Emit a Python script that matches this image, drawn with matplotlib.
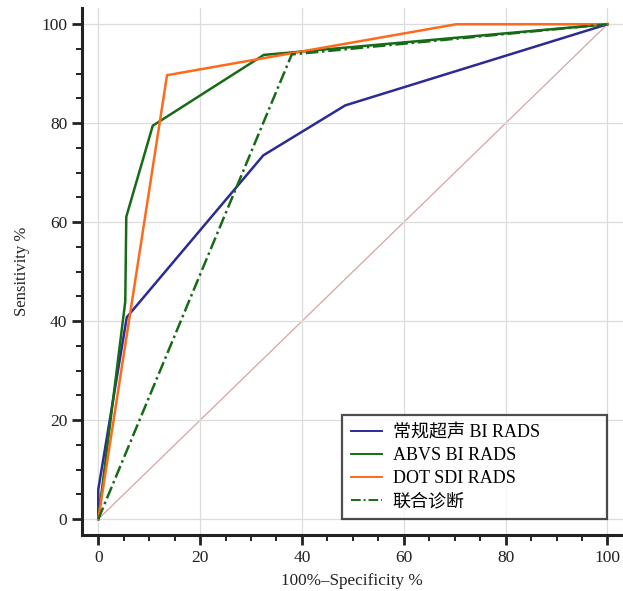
import matplotlib.pyplot as plt
from matplotlib.ticker import MultipleLocator

plt.rcParams['font.family'] = ['Liberation Serif', 'Noto Sans CJK SC']

# ROC curve points: (100% - specificity, sensitivity)
us_x = [0, 0, 5.6, 32.4, 48.5, 100]
us_y = [0, 6, 40.8, 73.5, 83.6, 100]

abvs_x = [0, 5.3, 5.5, 10.7, 32.5, 100]
abvs_y = [0, 44, 61.1, 79.5, 93.8, 100]

dot_x = [0, 13.5, 70.3, 100]
dot_y = [0, 89.7, 100, 100]

comb_x = [0, 38.0, 100]
comb_y = [0, 93.9, 100]

labels = ["常规超声 BI RADS", "ABVS BI RADS", "DOT SDI RADS", "联合诊断"]

fig = plt.figure(figsize=(6.23, 5.91), dpi=100)
ax = fig.add_axes([0.1316, 0.0948, 0.868, 0.891])

ax.plot([0, 100], [0, 100], color="#d9a3a3", lw=0.9, zorder=1)
ax.plot(us_x, us_y, color="#2b2b96", lw=1.8, label=labels[0], zorder=3)
ax.plot(abvs_x, abvs_y, color="#176b17", lw=1.8, label=labels[1], zorder=3)
ax.plot(dot_x, dot_y, color="#ff6a1a", lw=1.8, label=labels[2], zorder=3)
ax.plot(comb_x, comb_y, color="#176b17", lw=1.8, ls=(0, (5, 1.5, 1, 1.5)),
        label=labels[3], zorder=3)

ax.set_xlim(-3.2, 103)
ax.set_ylim(-3.2, 103.2)
ax.xaxis.set_major_locator(MultipleLocator(20))
ax.yaxis.set_major_locator(MultipleLocator(20))
ax.xaxis.set_minor_locator(MultipleLocator(5))
ax.yaxis.set_minor_locator(MultipleLocator(5))
ax.grid(True, which="major", color="#dcdcdc", lw=0.9, zorder=0)

for s in ["top", "right"]:
    ax.spines[s].set_visible(False)
for s in ["left", "bottom"]:
    ax.spines[s].set_linewidth(2.2)
    ax.spines[s].set_color("#222222")

ax.tick_params(which="major", length=7, width=2, color="#222222", labelsize=12.5,
               labelcolor="#222222")
ax.tick_params(which="minor", length=4.5, width=1.4, color="#222222")

ax.set_xlabel("100%–Specificity %", fontsize=12.3, color="#222222", labelpad=5)
ax.set_ylabel("Sensitivity %", fontsize=12, color="#222222", labelpad=8)

# legend box spans data x 48..100 along the bottom
leg = ax.legend(loc="lower left", bbox_to_anchor=(47.9, 0.0, 52.1, 20.0),
                bbox_transform=ax.transData, mode="expand", fontsize=13,
                frameon=True, fancybox=False, handlelength=1.7,
                borderpad=0.5, labelspacing=0.33, handletextpad=0.6,
                borderaxespad=0.0)
leg.get_frame().set_edgecolor("#222222")
leg.get_frame().set_linewidth(1.6)
for line in leg.get_lines():
    line.set_linewidth(1.4)

fig.savefig("out.png", dpi=100)
